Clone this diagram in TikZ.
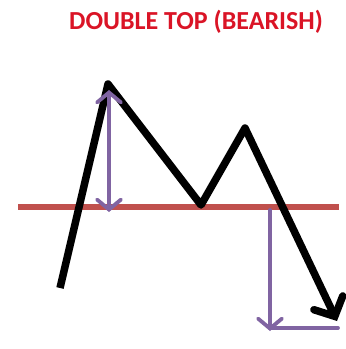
\documentclass[tikz,border=0pt]{standalone}
\usepackage{fontspec}
\setmainfont{Carlito}
\usetikzlibrary{arrows.meta}

\definecolor{titlered}{RGB}{218,20,38}
\definecolor{neckred}{RGB}{192,80,77}
\definecolor{measure}{RGB}{128,100,162}

\begin{document}
\begin{tikzpicture}[x=1pt, y=-1pt,
    title/.style={font=\fontsize{26}{30}\selectfont\bfseries, text=titlered},
    neckline/.style={line width=6pt, neckred},
    price/.style={line width=7.5pt, black, line join=round},
    move/.style={line width=3.8pt, measure, line cap=round},
    barb/.tip={Straight Barb[length=10pt, width=24pt, line width=3.8pt, line cap=round]},
    bigbarb/.tip={Straight Barb[length=15pt, width=32pt, line width=7.5pt, line cap=round]}
]
    \useasboundingbox (0,0) rectangle (346,349);
    \node[title] (head) at (196,22) {DOUBLE TOP (BEARISH)};

    % price swings
    \coordinate (start)  at (60,288);
    \coordinate (top1)   at (108,84);
    \coordinate (trough) at (201,205);
    \coordinate (top2)   at (245,128);
    \coordinate (target) at (337,321);

    % neckline
    \coordinate (nl) at (18,207);
    \coordinate (nr) at (339,207);
    \draw[neckline] (nl) -- (nr);

    \draw[price, -{bigbarb}]
        (start) -- (top1) -- (trough) -- (top2) -- (target);

    % measured move
    \coordinate (h1) at (109,90);
    \coordinate (h2) at (109,212);
    \coordinate (d1) at (270,210);
    \coordinate (d2) at (270,331);
    \coordinate (d3) at (338,328);
    \draw[move, {barb}-{barb}] (h1) -- (h2);
    \draw[move, -{barb}] (d1) -- (d2);
    \draw[move] (d2 |- d3) -- (d3);
\end{tikzpicture}
\end{document}
